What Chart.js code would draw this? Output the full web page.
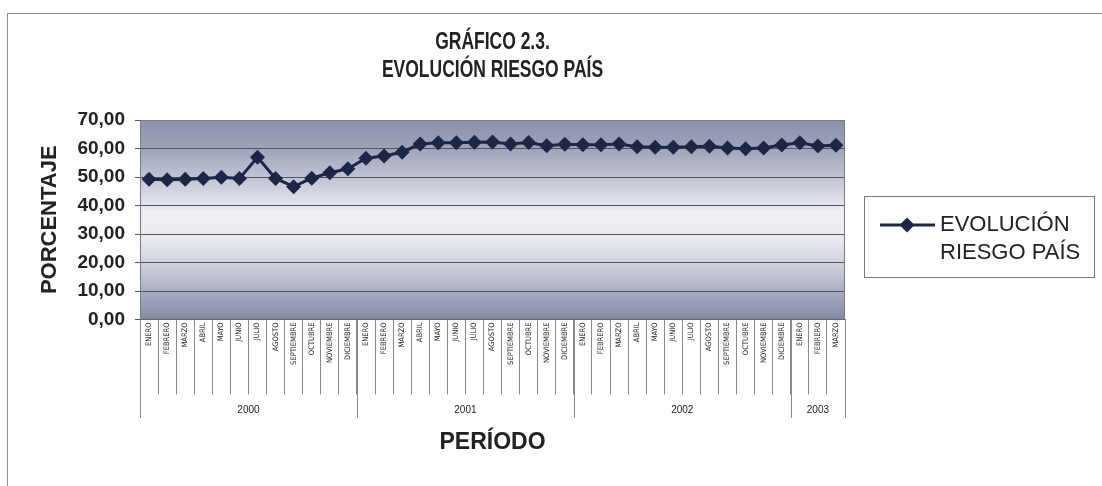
<!DOCTYPE html>
<html>
<head>
<meta charset="utf-8">
<script src="https://cdn.jsdelivr.net/npm/chart.js@4.4.0/dist/chart.umd.min.js"></script>
<style>
  html, body { margin: 0; padding: 0; background: #fff; }
  #wrap { position: relative; width: 1102px; height: 486px; }
</style>
</head>
<body>
<div id="wrap"><canvas id="riesgoChart" width="1102" height="486"></canvas></div>
<script>
  const titleLines = ['GRÁFICO 2.3.', 'EVOLUCIÓN RIESGO PAÍS'];
  const seriesLabel = 'EVOLUCIÓN RIESGO PAÍS';

  const monthNames = ['ENERO', 'FEBRERO', 'MARZO', 'ABRIL', 'MAYO', 'JUNIO', 'JULIO',
    'AGOSTO', 'SEPTIEMBRE', 'OCTUBRE', 'NOVIEMBRE', 'DICIEMBRE'];
  const years = ['2000', '2001', '2002', '2003'];
  const monthsPerYear = [12, 12, 12, 3];

  // riesgo país, % (ene 2000 - mar 2003)
  const riesgo2000 = [49.2, 49.0, 49.2, 49.5, 49.9, 49.5, 56.9, 49.5, 46.6, 49.6, 51.5, 52.9];
  const riesgo2001 = [56.6, 57.4, 58.7, 61.6, 62.0, 62.0, 62.2, 62.3, 61.6, 62.1, 61.0, 61.5];
  const riesgo2002 = [61.3, 61.3, 61.6, 60.6, 60.4, 60.4, 60.6, 60.8, 60.2, 59.9, 60.2, 61.2];
  const riesgo2003 = [62.0, 60.9, 61.1];

  const yTicks = [0, 10, 20, 30, 40, 50, 60, 70];

  const labels = [];
  monthsPerYear.forEach((n) => {
    for (let i = 0; i < n; i++) labels.push(monthNames[i]);
  });
  const values = [].concat(riesgo2000, riesgo2001, riesgo2002, riesgo2003);

  const NARROW = '"Liberation Sans Narrow", "DejaVu Sans Condensed", "Liberation Sans", sans-serif';
  const SANS = '"Liberation Sans", Arial, sans-serif';
  const LINE = '#1d2646';

  const decor = {
    id: 'decor',
    beforeDraw(chart) {
      const { ctx, chartArea: a } = chart;
      ctx.save();
      ctx.fillStyle = '#fff';
      ctx.fillRect(0, 0, chart.width, chart.height);
      const g = ctx.createLinearGradient(0, a.top, 0, a.bottom);
      g.addColorStop(0, '#8a90a8');
      g.addColorStop(0.14, '#9ea3b9');
      g.addColorStop(0.3, '#c2c6d5');
      g.addColorStop(0.46, '#eef0f5');
      g.addColorStop(0.6, '#e8eaf0');
      g.addColorStop(0.75, '#c8cbd9');
      g.addColorStop(0.89, '#9fa5bc');
      g.addColorStop(1, '#848aa6');
      ctx.fillStyle = g;
      ctx.fillRect(a.left, a.top, a.right - a.left, a.bottom - a.top);
      ctx.restore();
    },
    afterDraw(chart) {
      const { ctx, chartArea: a } = chart;
      const x = chart.scales.x;
      ctx.save();

      // marco exterior
      ctx.strokeStyle = '#8c8c8c';
      ctx.lineWidth = 1;
      ctx.beginPath();
      ctx.moveTo(7.5, chart.height);
      ctx.lineTo(7.5, 13.5);
      ctx.lineTo(chart.width, 13.5);
      ctx.stroke();

      // borde del área de trazado
      ctx.strokeStyle = '#7a7a7a';
      ctx.strokeRect(a.left + 0.5, a.top + 0.5, a.right - a.left - 1, a.bottom - a.top - 1);

      // título (estrecho, como Arial Narrow)
      const cx = (a.left + a.right) / 2;
      ctx.save();
      ctx.translate(cx, 0);
      ctx.scale(0.76, 1);
      ctx.fillStyle = '#222';
      ctx.textAlign = 'center';
      ctx.textBaseline = 'middle';
      ctx.font = 'bold 23px ' + SANS;
      ctx.fillText(titleLines[0], 0, 43);
      ctx.fillText(titleLines[1], 0, 71);
      ctx.restore();

      // años debajo de los meses
      const half = (x.getPixelForValue(1) - x.getPixelForValue(0)) / 2;
      ctx.strokeStyle = '#8a8a8a';
      ctx.fillStyle = '#222';
      ctx.textAlign = 'center';
      ctx.textBaseline = 'middle';
      ctx.font = '10px ' + SANS;
      let start = 0;
      monthsPerYear.forEach((n, i) => {
        const left = x.getPixelForValue(start) - half;
        const right = x.getPixelForValue(start + n - 1) + half;
        ctx.beginPath();
        ctx.moveTo(Math.round(left) + 0.5, a.bottom);
        ctx.lineTo(Math.round(left) + 0.5, 418);
        ctx.moveTo(Math.round(right) + 0.5, a.bottom);
        ctx.lineTo(Math.round(right) + 0.5, 418);
        ctx.stroke();
        ctx.fillText(years[i], (left + right) / 2, 410);
        start += n;
      });

      // leyenda
      const box = { l: 864, t: 196, r: 1094, b: 277 };
      ctx.strokeStyle = '#7a7a7a';
      ctx.strokeRect(box.l + 0.5, box.t + 0.5, box.r - box.l, box.b - box.t);
      const ly = 225;
      ctx.strokeStyle = LINE;
      ctx.lineWidth = 3;
      ctx.beginPath();
      ctx.moveTo(880, ly);
      ctx.lineTo(935, ly);
      ctx.stroke();
      ctx.fillStyle = LINE;
      ctx.beginPath();
      ctx.moveTo(907, ly - 7.5);
      ctx.lineTo(914.5, ly);
      ctx.lineTo(907, ly + 7.5);
      ctx.lineTo(899.5, ly);
      ctx.closePath();
      ctx.fill();
      const sp = seriesLabel.indexOf(' ');
      ctx.fillStyle = '#222';
      ctx.textAlign = 'left';
      ctx.font = '22px ' + SANS;
      ctx.fillText(seriesLabel.slice(0, sp), 940, ly);
      ctx.fillText(seriesLabel.slice(sp + 1), 940, ly + 28);

      ctx.restore();
    }
  };

  new Chart(document.getElementById('riesgoChart').getContext('2d'), {
    type: 'line',
    data: {
      labels,
      datasets: [
        {
          label: seriesLabel,
          data: values,
          borderColor: LINE,
          borderWidth: 3,
          pointStyle: 'rectRot',
          pointRadius: 7.5,
          pointBackgroundColor: LINE,
          pointBorderColor: LINE,
          pointBorderWidth: 0,
          tension: 0,
        },
      ],
    },
    options: {
      responsive: false,
      animation: false,
      layout: { padding: { top: 120, right: 257, bottom: 0, left: 0 } },
      plugins: {
        legend: { display: false },
        title: { display: false },
        tooltip: { enabled: false },
      },
      scales: {
        x: {
          type: 'category',
          offset: true,
          grid: {
            display: true,
            drawOnChartArea: false,
            drawTicks: true,
            tickLength: 75,
            offset: true,
            color: '#8a8a8a',
          },
          border: { display: true, color: '#555' },
          ticks: {
            autoSkip: false,
            maxRotation: 90,
            minRotation: 90,
            padding: -72,
            color: '#222',
            font: { family: NARROW, size: 7.5 },
          },
          title: {
            display: true,
            text: 'PERÍODO',
            color: '#222',
            font: { family: SANS, size: 23, weight: 'bold' },
            padding: { top: 0, bottom: 30 },
          },
          afterFit: (s) => { s.height = 166.5; },
        },
        y: {
          min: 0,
          max: 70,
          afterBuildTicks: (s) => { s.ticks = yTicks.map((v) => ({ value: v })); },
          ticks: {
            color: '#222',
            padding: 10,
            font: { family: SANS, size: 19, weight: 'bold' },
            callback: (v) => Number(v).toFixed(2).replace('.', ','),
          },
          grid: { color: '#555', tickLength: 5, lineWidth: 1 },
          border: { display: true, color: '#777' },
          title: {
            display: true,
            text: 'PORCENTAJE',
            color: '#222',
            font: { family: SANS, size: 22, weight: 'bold' },
            padding: { top: 37, bottom: 0 },
          },
          afterFit: (s) => { s.width = 140; },
        },
      },
    },
    plugins: [decor],
  });
</script>
</body>
</html>
